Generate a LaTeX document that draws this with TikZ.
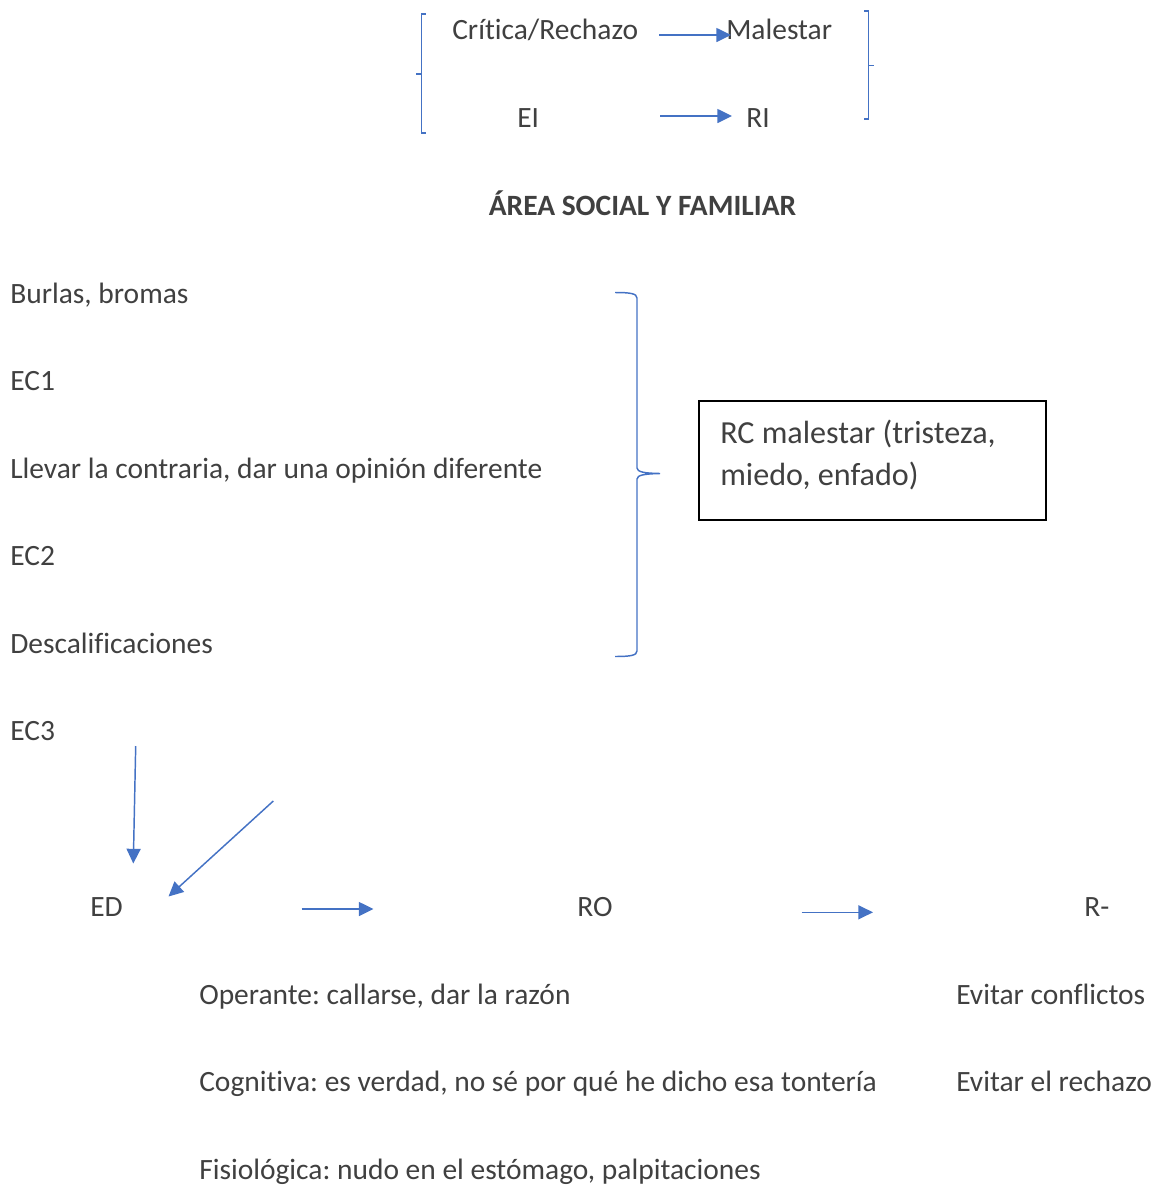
\documentclass[tikz,border=0pt]{standalone}
\usepackage{fontspec}
\setmainfont[Ligatures={NoCommon}]{Carlito}
\usetikzlibrary{arrows.meta}
\definecolor{txt}{HTML}{404040}
\definecolor{lblue}{HTML}{4472C4}
\frenchspacing
\tikzset{
  lbl/.style={anchor=base west, inner sep=0pt, text=txt, font=\fontsize{22.1}{26}\selectfont},
  ttl/.style={anchor=base, inner sep=0pt, text=txt, font=\fontsize{22.1}{26}\selectfont\bfseries},
  arr/.style={draw=lblue, line width=1.1pt, -{Triangle[length=11pt,width=10.5pt]}},
  brk/.style={draw=lblue, line width=1.1pt},
  rcbox/.style={draw=black, line width=1.4pt}
}
\begin{document}
\begin{tikzpicture}[x=0.75pt,y=-0.75pt]
\useasboundingbox (0,0) rectangle (1159,1186);
% top section
\node[lbl] (cr) at (452,39) {Crítica/Rechazo};
\node[lbl] (ma) at (726,39) {Malestar};
\node[lbl] (ei) at (517,127) {EI};
\node[lbl] (ri) at (746,127) {RI};
\coordinate (a1s) at (659,35); \coordinate (a1e) at (731,35);
\coordinate (a2s) at (660,116); \coordinate (a2e) at (732,116);
\draw[arr] (a1s) -- (a1e);
\draw[arr] (a2s) -- (a2e);
% brackets
\draw[brk] (425.5,14) -- (421.3,14) -- (421.3,133) -- (425.5,133);
\draw[brk] (416,74) -- (421.3,74);
\draw[brk] (864,11) -- (868.3,11) -- (868.3,119) -- (864,119);
\draw[brk] (868.3,65.5) -- (873.5,65.5);
% title
\node[ttl] (title) at (642.5,215) {ÁREA SOCIAL Y FAMILIAR};
% left column
\node[lbl] (b1) at (10,303) {Burlas, bromas};
\node[lbl] (ec1) at (10,390) {EC1};
\node[lbl] (b2) at (10,478) {Llevar la contraria, dar una opinión diferente};
\node[lbl] (ec2) at (10,565) {EC2};
\node[lbl] (b3) at (10,653) {Descalificaciones};
\node[lbl] (ec3) at (10,740) {EC3};
% big brace
\draw[brk] (615,292.5) .. controls (630,292.5) and (637,293.5) .. (637,298)
  -- (637,468) .. controls (637,472) and (645,473.3) .. (660,473.5)
  .. controls (645,473.8) and (637,475) .. (637,479)
  -- (637,651) .. controls (637,655.5) and (630,656.5) .. (615,656.5);
% box
\draw[rcbox] (699,401) rectangle (1046,520);
\node[lbl, font=\fontsize{24.1}{31.5}\selectfont] (rc1) at (720,443) {RC malestar (tristeza,};
\node[lbl, font=\fontsize{24.1}{31.5}\selectfont] (rc2) at (720,485) {miedo, enfado)};
% bottom
\coordinate (d1s) at (135.7,746); \coordinate (d1e) at (133.3,863.5);
\coordinate (d2s) at (273.3,801); \coordinate (d2e) at (168.5,896.5);
\draw[arr] (d1s) -- (d1e);
\draw[arr] (d2s) -- (d2e);
\node[lbl] (ed) at (90,916) {ED};
\node[lbl] (ro) at (577,916) {RO};
\node[lbl] (rm) at (1084,916) {R-};
\coordinate (h1s) at (301.7,909); \coordinate (h1e) at (373.5,909);
\coordinate (h2s) at (801.7,912.3); \coordinate (h2e) at (873,912.3);
\draw[arr] (h1s) -- (h1e);
\draw[arr] (h2s) -- (h2e);
\node[lbl] (op) at (199,1004) {Operante: callarse, dar la razón};
\node[lbl] (cg) at (199,1091) {Cognitiva: es verdad, no sé por qué he dicho esa tontería};
\node[lbl] (fs) at (199,1179) {Fisiológica: nudo en el estómago, palpitaciones};
\node[lbl] (ev1) at (956,1004) {Evitar conflictos};
\node[lbl] (ev2) at (956,1091) {Evitar el rechazo};
\end{tikzpicture}
\end{document}
